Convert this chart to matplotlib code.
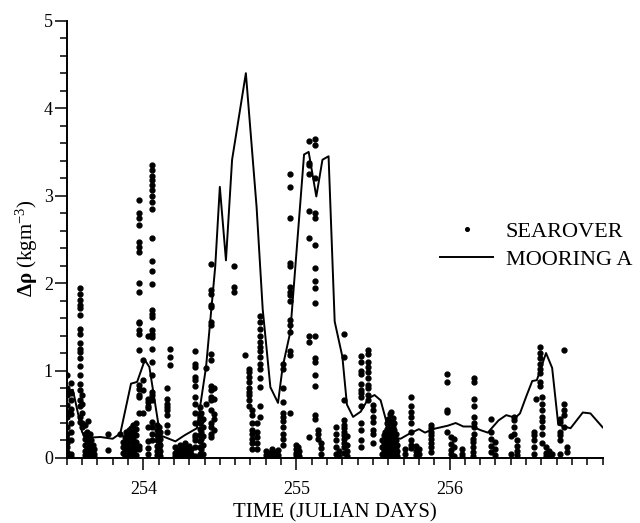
import matplotlib
matplotlib.use("Agg")
import matplotlib.pyplot as plt
from matplotlib.ticker import FixedLocator, MultipleLocator

plt.rcParams["font.family"] = ["Liberation Serif", "DejaVu Serif"]
plt.rcParams["mathtext.fontset"] = "custom"
plt.rcParams["mathtext.rm"] = "Liberation Serif"
plt.rcParams["mathtext.it"] = "Liberation Serif:italic"
plt.rcParams["mathtext.bf"] = "Liberation Serif:bold"

# Mooring A density difference (time in Julian days, kg m^-3)
mooring_t = [253.50, 253.54, 253.60, 253.62, 253.72, 253.80, 253.85, 253.92, 253.96,
             254.01, 254.04, 254.11, 254.21, 254.27, 254.35, 254.41, 254.47, 254.50,
             254.54, 254.58, 254.67, 254.74, 254.78, 254.83, 254.88, 254.91, 254.96,
             255.05, 255.08, 255.13, 255.17, 255.21, 255.25, 255.30, 255.33, 255.37,
             255.42, 255.47, 255.51, 255.55, 255.59, 255.63, 255.68, 255.74, 255.80,
             255.84, 255.89, 255.99, 256.04, 256.09, 256.15, 256.20, 256.25, 256.32,
             256.37, 256.43, 256.46, 256.50, 256.54, 256.57, 256.63, 256.67, 256.71,
             256.75, 256.79, 256.87, 256.92, 257.00]
mooring_d = [0.77, 0.78, 0.30, 0.23, 0.24, 0.22, 0.28, 0.85, 0.87,
             1.12, 1.04, 0.26, 0.19, 0.26, 0.34, 1.04, 2.19, 3.10,
             2.26, 3.41, 4.40, 2.87, 1.70, 0.81, 0.63, 1.04, 1.44,
             3.47, 3.50, 2.99, 3.41, 3.45, 1.56, 1.16, 0.61, 0.47,
             0.53, 0.68, 0.72, 0.66, 0.40, 0.24, 0.22, 0.28, 0.33,
             0.29, 0.33, 0.37, 0.40, 0.36, 0.36, 0.32, 0.29, 0.43,
             0.49, 0.46, 0.51, 0.70, 0.88, 0.89, 1.20, 1.03, 0.38,
             0.36, 0.34, 0.52, 0.51, 0.35]

# Searover profiles: one time per profile and the values read along it
profile_t = [253.50, 253.53, 253.585, 253.60, 253.62, 253.63, 253.64, 253.65, 253.66,
             253.67, 253.68, 253.77, 253.85, 253.87, 253.88, 253.89, 253.90, 253.91,
             253.92, 253.93, 253.94, 253.95,
             253.975, 254.00, 254.03, 254.055, 254.09, 254.10, 254.11, 254.155, 254.175,
             254.21, 254.22, 254.24, 254.25, 254.27, 254.28, 254.30, 254.31,
             254.335, 254.37, 254.38, 254.39, 254.41,
             254.44, 254.46, 254.59, 254.665, 254.69, 254.71, 254.745, 254.76,
             254.80, 254.81, 254.82, 254.84, 254.85, 254.86, 254.88, 254.91, 254.96,
             255.00, 255.01, 255.02,
             255.085, 255.12, 255.14, 255.16, 255.26, 255.28, 255.31, 255.33,
             255.42, 255.47, 255.50, 255.56, 255.57, 255.58, 255.59, 255.60, 255.61,
             255.62, 255.63, 255.64, 255.65, 255.66,
             255.71, 255.75, 255.78, 255.80, 255.88, 255.985, 256.01, 256.03, 256.08,
             256.15, 256.16, 256.27, 256.30, 256.40, 256.42, 256.44, 256.55,
             256.565, 256.59, 256.605, 256.63, 256.65, 256.67, 256.72, 256.745,
             256.75, 256.765]
profile_d = [
    [0.95, 0.80, 0.76, 0.72, 0.61, 0.53, 0.47, 0.36, 0.28, 0.22, 0.17, 0.12, 0.07, 0.03],
    [0.86, 0.74, 0.66, 0.56, 0.50, 0.40, 0.30, 0.20, 0.05, 0.01],
    [1.94, 1.88, 1.81, 1.75, 1.71, 1.64, 1.47, 1.42, 1.31, 1.25, 1.21, 1.14, 1.05, 0.95,
     0.85, 0.78, 0.66, 0.59, 0.47, 0.41],
    [0.72, 0.62, 0.52, 0.40, 0.36],
    [0.38, 0.28, 0.22, 0.15, 0.08, 0.03],
    [0.30, 0.16, 0.10, 0.04],
    [0.42, 0.25, 0.18, 0.12, 0.06, 0.02],
    [0.28, 0.14, 0.08],
    [0.20, 0.12, 0.06, 0.02],
    [0.15, 0.09, 0.03],
    [0.10, 0.04, 0.01],
    [0.28, 0.09],
    [0.27],
    [0.18, 0.12, 0.06],
    [0.24, 0.10, 0.02],
    [0.30, 0.22, 0.15, 0.08, 0.03],
    [0.26, 0.12, 0.06, 0.01],
    [0.32, 0.25, 0.18, 0.10, 0.04],
    [0.34, 0.20, 0.08, 0.02],
    [0.38, 0.30, 0.22, 0.14, 0.06, 0.01],
    [0.28, 0.16, 0.05],
    [0.40, 0.33, 0.26, 0.18, 0.10, 0.03],
    [2.95, 2.80, 2.74, 2.66, 2.47, 2.41, 2.36, 2.00, 1.90, 1.56, 1.54, 1.46, 1.42, 1.23,
     0.83, 0.79, 0.72, 0.70, 0.51, 0.14, 0.10],
    [1.12, 0.89, 0.78, 0.51],
    [1.40, 0.68, 0.64, 0.60, 0.57, 0.36, 0.19, 0.11, 0.05],
    [3.35, 3.29, 3.23, 3.18, 3.12, 3.06, 3.00, 2.93, 2.85, 2.51, 2.25, 2.14, 1.99, 1.69,
     1.65, 1.61, 1.46, 1.42, 1.38, 1.25, 1.10, 0.95, 0.76, 0.72, 0.66, 0.41, 0.36, 0.28,
     0.20],
    [0.38, 0.32, 0.26, 0.20, 0.14, 0.08, 0.03],
    [0.35, 0.24, 0.17, 0.11, 0.05],
    [0.30, 0.22, 0.15, 0.08, 0.02],
    [0.80, 0.68, 0.62, 0.58, 0.55, 0.49, 0.38, 0.30],
    [1.25, 1.16, 1.06],
    [0.12, 0.06, 0.02],
    [0.09, 0.04],
    [0.15, 0.08, 0.03],
    [0.12, 0.05, 0.01],
    [0.17, 0.10, 0.04],
    [0.13, 0.07, 0.02],
    [0.14, 0.07, 0.02],
    [0.10, 0.04],
    [1.22, 1.08, 1.04, 0.93, 0.89, 0.82, 0.70, 0.62, 0.51, 0.40, 0.26, 0.24, 0.20, 0.13, 0.02],
    [0.58, 0.48, 0.40, 0.33, 0.26, 0.19, 0.12, 0.05],
    [0.52, 0.42, 0.30, 0.22, 0.10, 0.03],
    [0.45, 0.35, 0.25, 0.15, 0.05],
    [1.03, 0.62],
    [2.22, 1.92, 1.88, 1.75, 1.73, 1.56, 1.52, 1.19, 1.12, 0.82, 0.78, 0.70, 0.66, 0.55,
     0.40, 0.36, 0.28, 0.24],
    [0.80, 0.68, 0.50, 0.45, 0.32],
    [2.19, 1.96, 1.90],
    [1.18],
    [1.02, 0.98, 0.93, 0.87, 0.80, 0.76, 0.72, 0.66, 0.59],
    [0.55, 0.49, 0.40, 0.32, 0.28, 0.22, 0.17, 0.10],
    [0.40, 0.30, 0.24, 0.17, 0.10],
    [1.62, 1.56, 1.48, 1.40, 1.33, 1.27, 1.22, 1.16, 1.08, 1.02, 0.91, 0.81, 0.59, 0.47],
    [0.08, 0.03],
    [0.05, 0.01],
    [0.06, 0.02],
    [0.10, 0.04, 0.01],
    [0.05, 0.02],
    [0.07, 0.02],
    [0.09, 0.03],
    [1.08, 1.02, 0.80, 0.64, 0.51, 0.47, 0.42, 0.36, 0.28, 0.22, 0.15],
    [3.25, 3.10, 2.74, 2.23, 2.20, 1.96, 1.90, 1.86, 1.80, 1.58, 1.52, 1.44, 1.22, 1.18, 0.51],
    [0.15, 0.10, 0.06, 0.03],
    [0.12, 0.05, 0.01],
    [0.08, 0.02],
    [3.62, 3.37, 3.35, 3.25, 2.82, 2.51, 1.40, 1.33, 0.24],
    [3.65, 3.58, 3.20, 2.80, 2.74, 2.43, 2.17, 2.02, 1.94, 1.77, 1.39, 1.14, 1.10, 0.95,
     0.82, 0.49, 0.45],
    [0.32, 0.28, 0.22],
    [0.17, 0.11, 0.05],
    [0.36, 0.28, 0.20, 0.12, 0.05],
    [0.08, 0.02],
    [1.42, 1.16, 0.66, 0.43, 0.38, 0.34, 0.30, 0.26, 0.22, 0.17, 0.12, 0.06],
    [0.25, 0.15, 0.08, 0.02],
    [1.17, 1.10, 1.00, 0.96, 0.85, 0.78, 0.74, 0.70, 0.59, 0.40, 0.32, 0.21, 0.13],
    [1.23, 1.19, 1.10, 1.04, 0.98, 0.91, 0.83, 0.80, 0.72, 0.66],
    [0.61, 0.55, 0.47, 0.41, 0.32, 0.28, 0.17],
    [0.20, 0.12, 0.05],
    [0.26, 0.17, 0.09, 0.03],
    [0.30, 0.22, 0.14, 0.07, 0.02],
    [0.40, 0.33, 0.25, 0.18, 0.10, 0.04],
    [0.45, 0.38, 0.30, 0.22, 0.14, 0.07, 0.02],
    [0.50, 0.42, 0.34, 0.26, 0.18, 0.11, 0.05],
    [0.53, 0.45, 0.38, 0.30, 0.22, 0.15, 0.08, 0.02],
    [0.46, 0.36, 0.28, 0.20, 0.12, 0.05],
    [0.40, 0.32, 0.25, 0.18, 0.10, 0.04],
    [0.28, 0.20, 0.12, 0.06],
    [0.15, 0.08, 0.02],
    [0.10, 0.04],
    [0.70, 0.59, 0.53, 0.47, 0.40, 0.30, 0.21, 0.15, 0.11],
    [0.14, 0.08, 0.03],
    [0.10, 0.04],
    [0.38, 0.34, 0.30, 0.26, 0.22, 0.17, 0.12, 0.07],
    [0.96, 0.87, 0.55, 0.53, 0.30],
    [0.24, 0.16, 0.09, 0.04],
    [0.22, 0.12, 0.02],
    [0.10, 0.05, 0.01],
    [0.22, 0.18, 0.13, 0.07, 0.02],
    [0.91, 0.87, 0.68, 0.59, 0.47, 0.40, 0.36, 0.28],
    [0.45, 0.30, 0.22, 0.14, 0.07],
    [0.18, 0.10, 0.03],
    [0.25, 0.04],
    [0.47, 0.43, 0.36, 0.28],
    [0.20, 0.14, 0.08, 0.03],
    [0.30, 0.26, 0.20, 0.13, 0.04],
    [0.68],
    [1.27, 1.20, 1.14, 1.08, 1.02, 0.97, 0.87, 0.82],
    [0.70, 0.62, 0.55, 0.47, 0.42, 0.36, 0.28, 0.17],
    [0.12, 0.06, 0.02],
    [0.08, 0.03],
    [0.04],
    [0.45, 0.41, 0.30, 0.26, 0.21, 0.04],
    [0.62, 0.55, 0.49, 0.36],
    [1.23],
    [0.13, 0.07],
]

searover_t = []
searover_d = []
for t, vals in zip(profile_t, profile_d):
    searover_t += [t] * len(vals)
    searover_d += vals

fig = plt.figure(figsize=(6.4, 5.23), dpi=100)
ax = fig.add_axes([0.1042, 0.1243, 0.8375, 0.8361])

dots, = ax.plot(searover_t, searover_d, "o", ls="none", color="black", ms=3.5,
                label="SEAROVER")
line, = ax.plot(mooring_t, mooring_d, "-", color="black", lw=1.4, label="MOORING A")

ax.set_xlim(253.5, 257.0)
ax.set_ylim(0, 5)
ax.spines["top"].set_visible(False)
ax.spines["right"].set_visible(False)
ax.spines["left"].set_linewidth(1.4)
ax.spines["bottom"].set_linewidth(1.4)

ax.xaxis.set_major_locator(FixedLocator([254, 255, 256]))
ax.xaxis.set_minor_locator(MultipleLocator(0.1))
ax.yaxis.set_major_locator(MultipleLocator(1))
ax.yaxis.set_minor_locator(MultipleLocator(0.2))
ax.tick_params(which="major", length=8.5, width=1.1, direction="out", labelsize=13)
ax.tick_params(which="minor", length=5, width=1.1, direction="out")
ax.tick_params(axis="x", which="major", pad=8)
ax.tick_params(axis="y", which="major", pad=1.5)

ax.set_xlabel("TIME (JULIAN DAYS)", fontsize=15, labelpad=4)
fig.text(27 / 640, 1 - 248 / 523, r"$\mathbf{\Delta\rho}$ (kgm$^{-3}$)", fontsize=15,
         rotation=90, ha="center", va="center")

ax.legend([dots, line], ["SEAROVER", "MOORING A"], loc="center left",
          bbox_to_anchor=(440 / 640, 1 - 245.5 / 523), bbox_transform=fig.transFigure,
          frameon=False, fontsize=16, numpoints=1, handlelength=2.4,
          handletextpad=0.55, labelspacing=0.35, borderpad=0, borderaxespad=0,
          markerscale=0.75)

fig.savefig("out.png", dpi=100)
